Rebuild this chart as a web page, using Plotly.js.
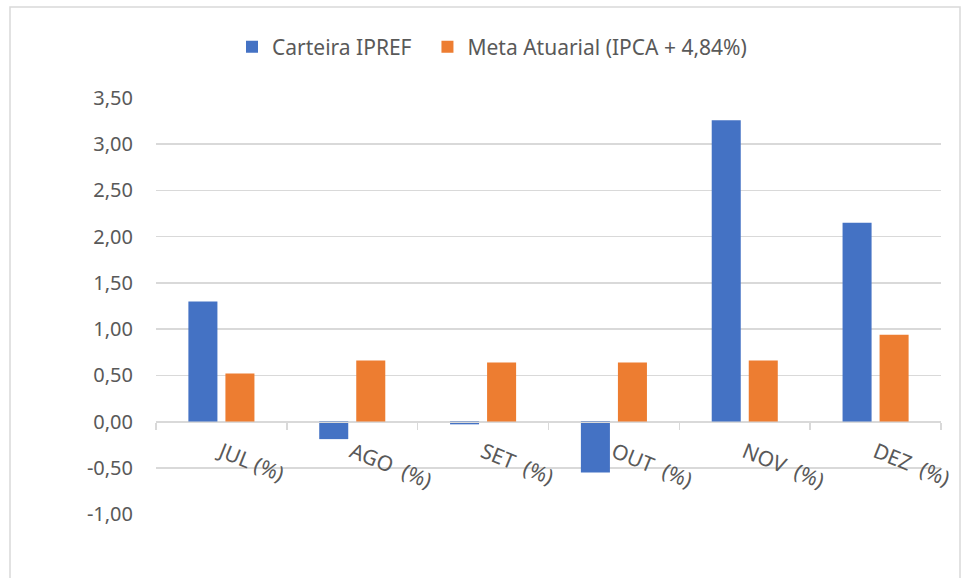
<!DOCTYPE html>
<html>
<head>
<meta charset="utf-8">
<script src="https://cdn.plot.ly/plotly-3.0.1.min.js"></script>
<style>html,body{margin:0;padding:0;background:#fff;}#chart{width:962px;height:578px;}</style>
</head>
<body>
<div id="chart"></div>
<script>
const categories = ["JUL (%)", "AGO\u00a0 (%)", "SET\u00a0 (%)", "OUT\u00a0 (%)", "NOV\u00a0 (%)", "DEZ\u00a0 (%)"];
const carteira = [1.30, -0.19, -0.03, -0.55, 3.26, 2.15];
const meta = [0.52, 0.66, 0.64, 0.64, 0.66, 0.94];
const seriesNames = ["Carteira IPREF", "Meta Atuarial (IPCA + 4,84%)"];
const yTickVals = [-1, -0.5, 0, 0.5, 1, 1.5, 2, 2.5, 3, 3.5];
const yTickText = yTickVals.map(v => v.toFixed(2).replace(".", ","));

const font = "Noto Sans, Open Sans, sans-serif";
const yMin = -1, yMax = 3.5;

const data = [
  {type: "bar", name: seriesNames[0] + "\u00a0\u00a0", x: categories, y: carteira, marker: {color: "#4472C4"}, hoverinfo: "none"},
  {type: "bar", name: seriesNames[1], x: categories, y: meta, marker: {color: "#ED7D31"}, hoverinfo: "none"}
];

const L = 156, R = 21, T = 98, B = 64, W = 962, H = 578;
const pw = W - L - R, ph = H - T - B;
const px = v => (v - L) / pw;
const py = v => (H - B - v) / ph;

const layout = {
  width: W, height: H,
  margin: {l: L, r: R, t: T, b: B, pad: 0},
  paper_bgcolor: "#ffffff", plot_bgcolor: "#ffffff",
  separators: ",.",
  font: {family: font, size: 20, color: "#595959"},
  barmode: "group", bargap: 0.434, bargroupgap: 0.216,
  showlegend: true,
  legend: {orientation: "h", x: px(492), y: py(47), xanchor: "center", yanchor: "middle",
           font: {family: font, size: 21, color: "#595959"}, itemwidth: 30},
  xaxis: {type: "category", anchor: "free", position: (0 - yMin) / (yMax - yMin),
          showline: true, linecolor: "#d9d9d9", linewidth: 1.5,
          ticks: "outside", ticklen: 7, tickwidth: 1.5, tickcolor: "#d9d9d9",
          tickson: "boundaries", showgrid: false, zeroline: false,
          tickangle: 22, ticklabelstandoff: 9,
          tickfont: {family: font, size: 21, color: "#595959"}, fixedrange: true},
  yaxis: {range: [yMin, yMax], tickvals: yTickVals, ticktext: yTickText,
          showgrid: true, gridcolor: "#d9d9d9", gridwidth: 1.5, zeroline: false,
          showline: false, ticks: "", ticklabelstandoff: 22,
          tickfont: {family: font, size: 20, color: "#595959"}, fixedrange: true},
  shapes: [
    {type: "rect", xref: "paper", yref: "paper", x0: px(10), x1: px(960), y0: py(7), y1: py(590),
     line: {color: "#d9d9d9", width: 1.5}, fillcolor: "rgba(0,0,0,0)", layer: "below"}
  ]
};

Plotly.newPlot("chart", data, layout, {displayModeBar: false, staticPlot: true});
</script>
</body>
</html>
